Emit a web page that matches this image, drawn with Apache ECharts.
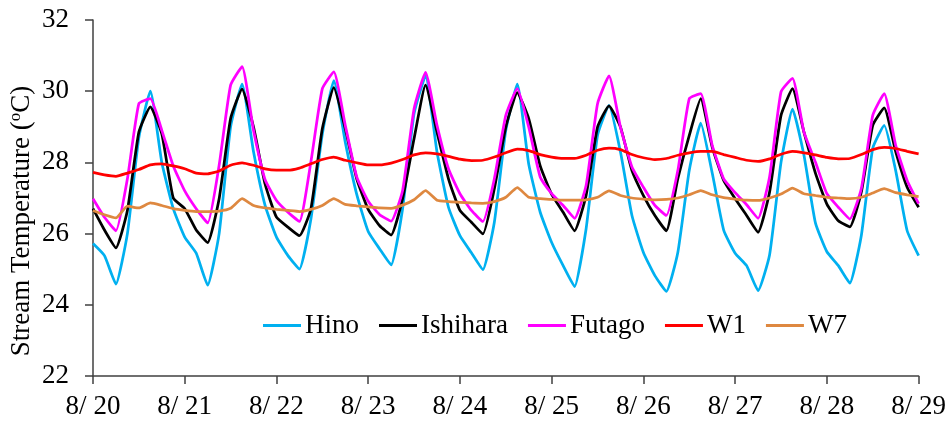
<!DOCTYPE html>
<html>
<head>
<meta charset="utf-8">
<script src="https://cdn.jsdelivr.net/npm/echarts@6/dist/echarts.min.js"></script>
<style>
html,body{margin:0;padding:0;background:#fff;}
#chart{width:949px;height:421px;}
</style>
</head>
<body>
<div id="chart"></div>
<script>
// Hours since 8/20 00:00 (3-hour steps)
var hours = [0,3,6,9,12,15,18,21, 24,27,30,33,36,39,42,45, 48,51,54,57,60,63,66,69,
  72,75,78,81,84,87,90,93, 96,99,102,105,108,111,114,117, 120,123,126,129,132,135,138,141,
  144,147,150,153,156,159,162,165, 168,171,174,177,180,183,186,189, 192,195,198,201,204,207,210,213, 216];

var xTickLabels = ['8/ 20','8/ 21','8/ 22','8/ 23','8/ 24','8/ 25','8/ 26','8/ 27','8/ 28','8/ 29'];
var seriesNames = ['Hino','Ishihara','Futago','W1','W7'];

var hino = [25.72,25.38,24.58,26.0,28.7,30.0,28.0,26.7,
  25.9,25.45,24.55,26.0,29.0,30.2,28.3,26.8,
  25.9,25.38,25.0,26.4,28.8,30.3,28.57,27.1,
  26.06,25.57,25.12,26.7,29.37,30.43,28.29,26.74,
  25.94,25.46,24.99,26.32,28.9,30.2,27.95,26.6,
  25.75,25.1,24.51,26.13,28.76,29.6,28.29,26.51,
  25.47,24.82,24.38,25.47,27.78,29.1,27.7,26.1,
  25.45,25.1,24.4,25.4,28.0,29.5,28.2,26.3,
  25.49,25.1,24.61,25.94,28.4,29.04,27.77,26.08,
  25.38];

var ishihara = [26.7,26.1,25.6,26.65,28.85,29.56,28.8,27.0,
  26.7,26.1,25.75,26.98,29.23,30.06,28.99,27.4,
  26.46,26.18,25.94,26.69,28.95,30.1,28.95,27.54,
  26.68,26.22,25.96,26.98,28.67,30.17,28.85,27.54,
  26.65,26.32,25.99,27.26,28.99,29.96,29.23,27.9,
  27.1,26.6,26.08,27.07,28.99,29.59,28.99,27.77,
  27.07,26.51,26.08,27.54,28.76,29.79,28.43,27.49,
  26.98,26.51,26.04,27.16,29.32,30.07,28.85,27.7,
  26.83,26.36,26.19,27.16,29.04,29.53,28.3,27.3,
  26.74];

var futago = [26.98,26.46,26.08,27.54,29.65,29.79,28.9,27.9,
  27.2,26.7,26.3,27.92,30.17,30.69,28.9,27.52,
  26.93,26.6,26.34,28.01,30.07,30.54,29.04,27.59,
  26.91,26.53,26.35,27.21,29.51,30.53,29.04,27.82,
  27.12,26.65,26.34,27.54,29.32,30.07,28.99,27.59,
  27.12,26.79,26.43,27.35,29.65,30.43,28.99,27.87,
  27.3,26.79,26.51,27.77,29.79,29.93,28.48,27.54,
  27.15,26.81,26.43,27.59,29.98,30.36,28.85,28.01,
  27.12,26.74,26.41,27.26,29.32,29.93,28.48,27.49,
  26.84];

var w1 = [27.72,27.65,27.61,27.7,27.8,27.93,27.96,27.9,
  27.82,27.7,27.68,27.76,27.92,27.99,27.92,27.82,
  27.78,27.78,27.84,27.96,28.08,28.15,28.06,27.99,
  27.93,27.93,27.98,28.08,28.21,28.27,28.24,28.17,
  28.09,28.05,28.06,28.15,28.27,28.37,28.33,28.22,
  28.15,28.11,28.11,28.2,28.34,28.4,28.36,28.22,
  28.13,28.08,28.11,28.2,28.27,28.31,28.31,28.22,
  28.14,28.06,28.03,28.1,28.23,28.31,28.27,28.21,
  28.14,28.1,28.11,28.22,28.36,28.42,28.39,28.31,
  28.24];

var w7 = [26.65,26.53,26.44,26.77,26.72,26.86,26.79,26.7,
  26.65,26.62,26.62,26.63,26.71,26.98,26.79,26.72,
  26.68,26.65,26.62,26.68,26.79,26.98,26.82,26.78,
  26.75,26.72,26.71,26.8,26.95,27.21,26.94,26.9,
  26.88,26.86,26.85,26.9,27.02,27.29,27.02,26.98,
  26.96,26.94,26.94,26.95,27.02,27.2,27.07,27.0,
  26.97,26.95,26.96,27.0,27.09,27.21,27.09,27.01,
  26.97,26.94,26.93,27.0,27.11,27.28,27.12,27.07,
  27.02,27.0,26.98,27.02,27.14,27.26,27.15,27.09,
  27.04];

var colors = ['#00B0F0','#000000','#FF00FF','#FF0000','#DE8840'];
var allValues = [hino, ishihara, futago, w1, w7];

function pairs(vals){ return hours.map(function(h,i){ return [h, vals[i]]; }); }

var FONT = '"Liberation Serif","Times New Roman",serif';

var chart = echarts.init(document.getElementById('chart'), null, {renderer:'canvas'});
chart.setOption({
  animation: false,
  backgroundColor: '#ffffff',
  grid: { left: 93, right: 30, top: 20, bottom: 45, containLabel: false },
  legend: {
    data: seriesNames,
    icon: 'rect',
    left: 258, top: 307,
    itemWidth: 38, itemHeight: 3, itemGap: 20,
    textStyle: { fontFamily: FONT, fontSize: 27, color: '#000', padding: [0,0,0,-1] }
  },
  xAxis: {
    type: 'value', min: 0, max: 216, interval: 24,
    axisLine: { show: true, lineStyle: { color: '#404040', width: 1.5 } },
    axisTick: { show: true, inside: false, length: 8, lineStyle: { color: '#404040', width: 1.5 } },
    splitLine: { show: false },
    axisLabel: {
      margin: 17, fontFamily: FONT, fontSize: 27, color: '#000',
      formatter: function(v){ return xTickLabels[Math.round(v/24)]; }
    }
  },
  yAxis: {
    type: 'value', min: 22, max: 32, interval: 2,
    axisLine: { show: true, lineStyle: { color: '#404040', width: 1.5 } },
    axisTick: { show: true, inside: false, length: 8, lineStyle: { color: '#404040', width: 1.5 } },
    splitLine: { show: false },
    axisLabel: { margin: 24, fontFamily: FONT, fontSize: 27, color: '#000' }
  },
  graphic: [{
    type: 'text',
    x: 22, y: 221,
    rotation: Math.PI / 2,
    style: {
      text: 'Stream Temperature ({sup|o}C)',
      rich: { sup: { fontFamily: FONT, fontSize: 17, verticalAlign: 'top', padding: [0,0,12,0] } },
      fontFamily: FONT, fontSize: 27, fill: '#000',
      align: 'center', verticalAlign: 'middle'
    }
  }],
  series: seriesNames.map(function(name, k){
    return {
      name: name, type: 'line', symbol: 'none', smooth: 0.15,
      data: pairs(allValues[k]),
      lineStyle: { color: colors[k], width: 2.75 },
      itemStyle: { color: colors[k] }
    };
  })
});
</script>
</body>
</html>
